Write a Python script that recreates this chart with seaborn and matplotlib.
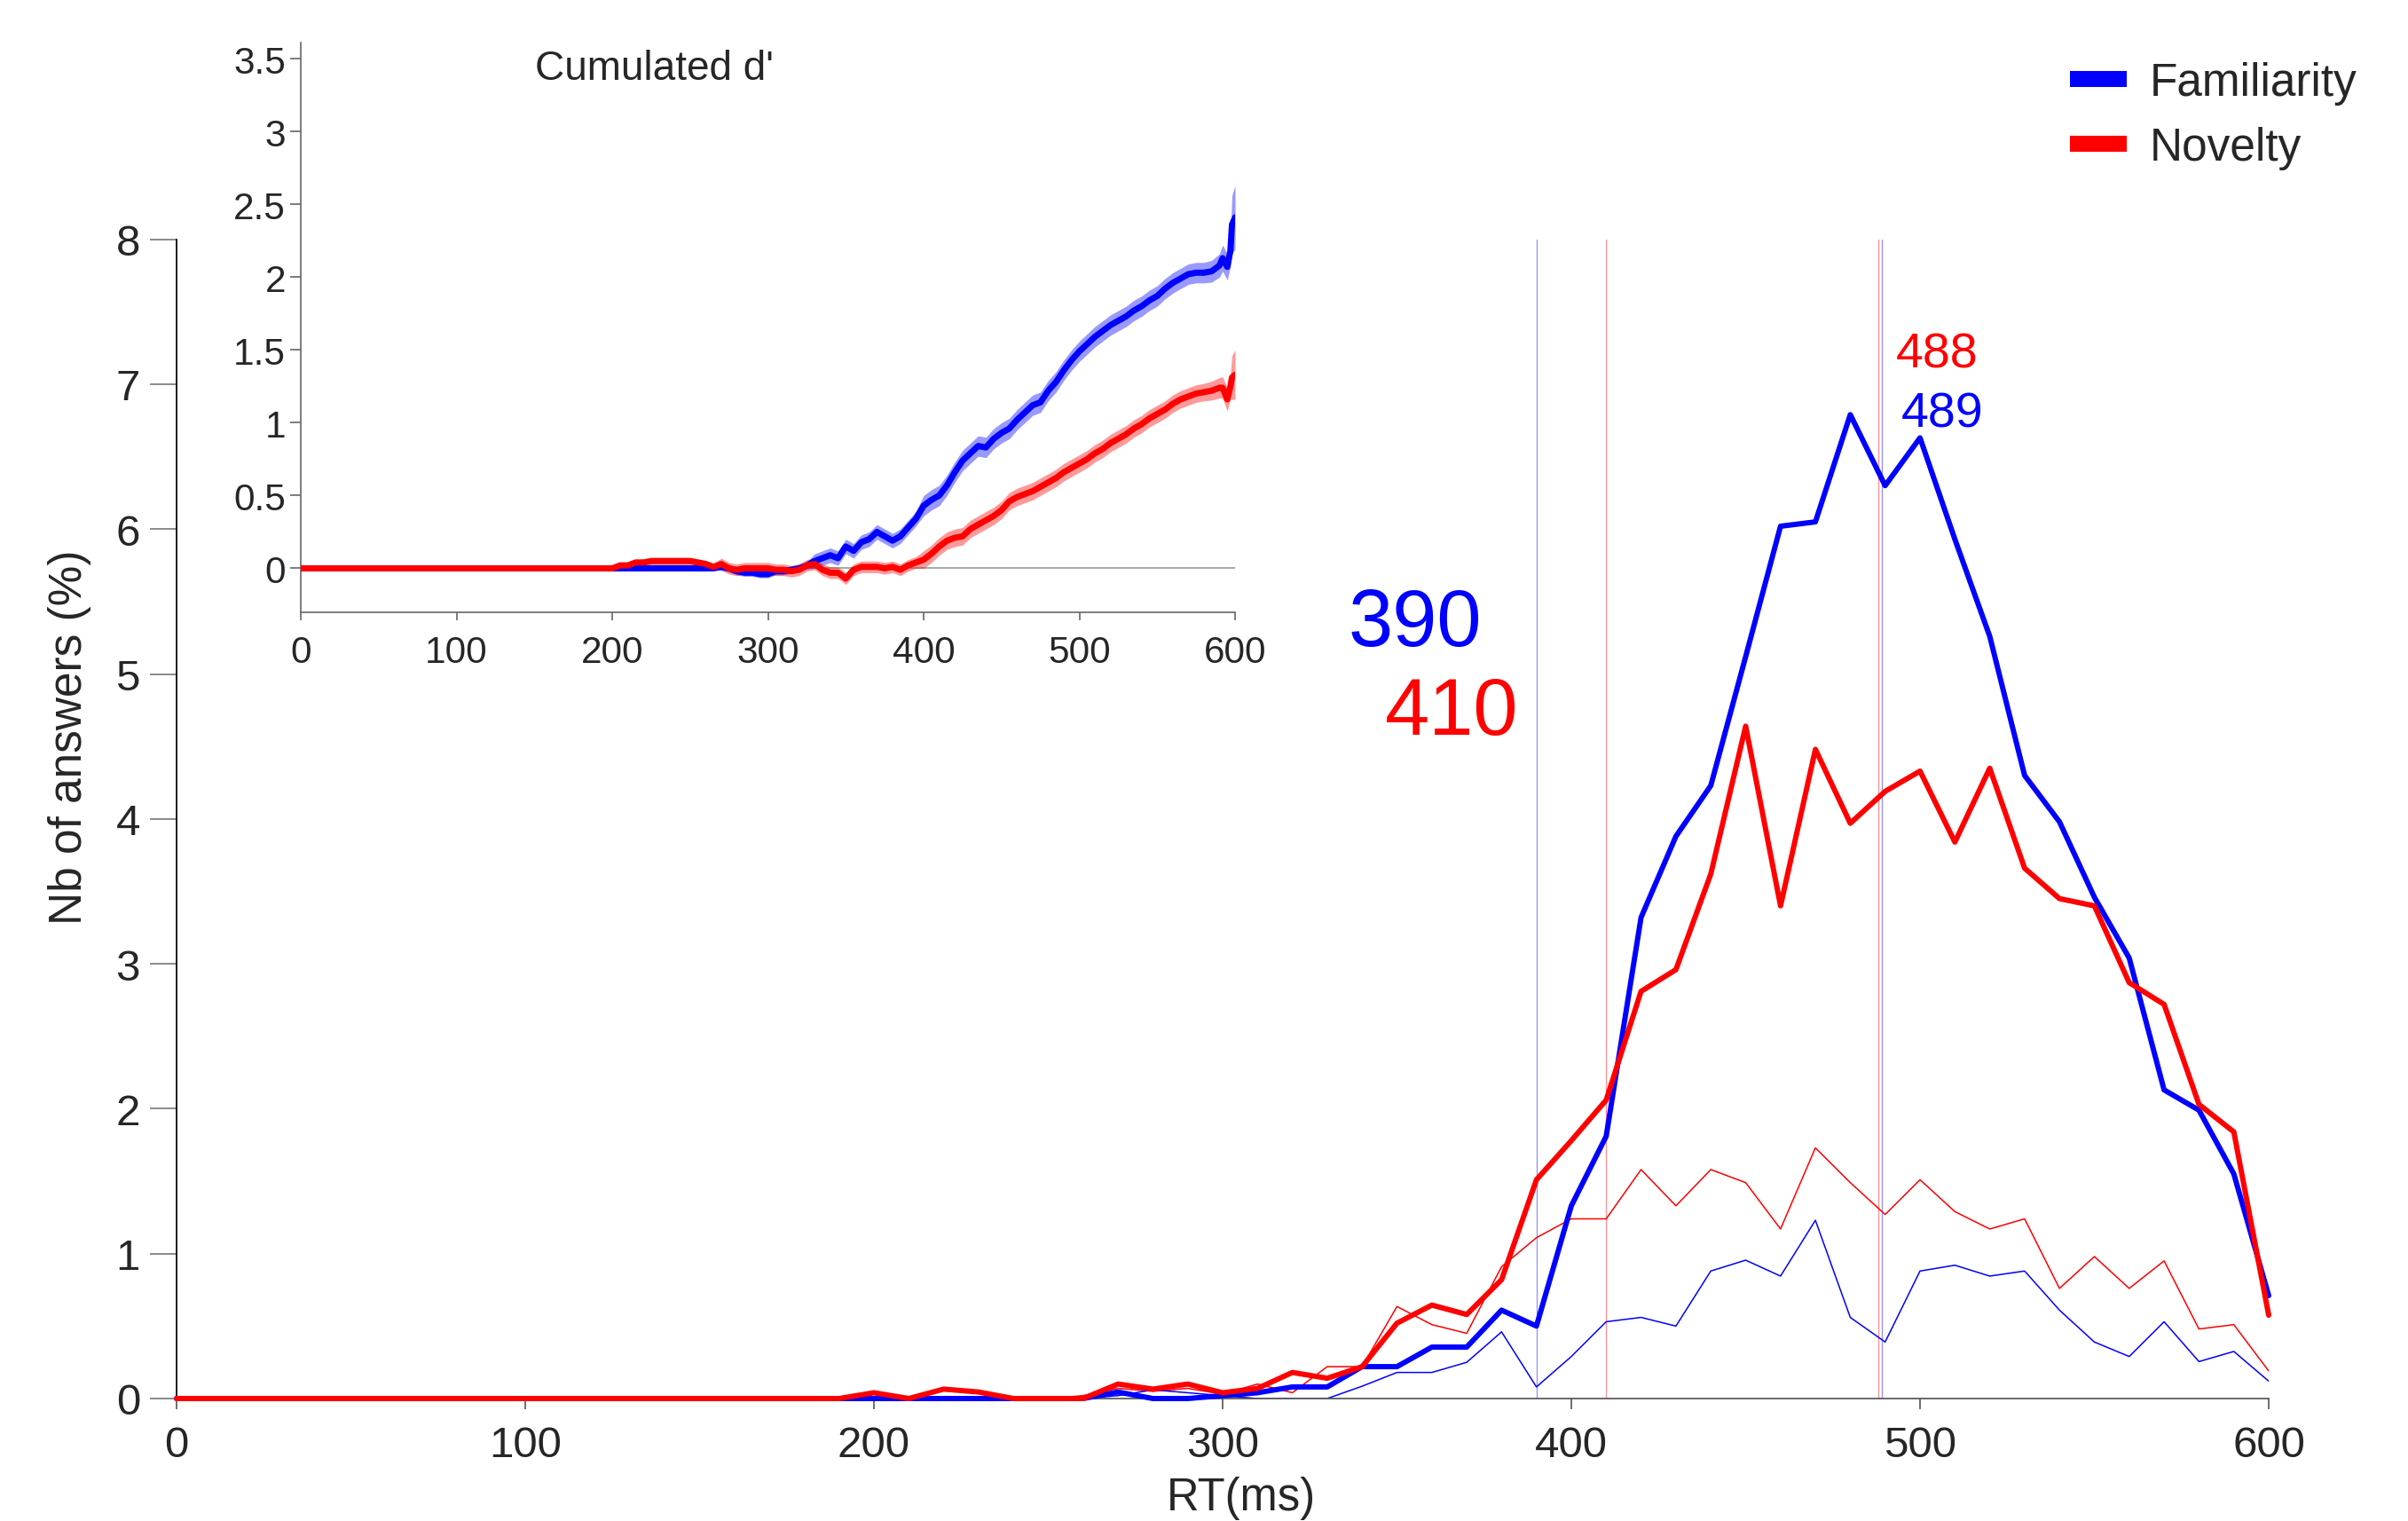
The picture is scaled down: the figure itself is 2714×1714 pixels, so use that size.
import numpy as np
import pandas as pd
import matplotlib
matplotlib.use("Agg")
import matplotlib.pyplot as plt
from matplotlib.lines import Line2D
import seaborn as sns

# main histogram: RT bins (ms) and % of answers
rt_bins = list(range(0, 610, 10))
fam_main = [0.0] * 27 + [0.045, 0.0, 0.0, 0.02, 0.04, 0.08, 0.08, 0.22, 0.22, 0.355, 0.355, 0.61,
                         0.50, 1.33, 1.81, 3.32, 3.88, 4.23, 5.12, 6.02, 6.05, 6.79, 6.30, 6.63,
                         5.93, 5.26, 4.30, 3.98, 3.46, 3.04, 2.13, 1.99, 1.55, 0.71]
nov_main = [0.0] * 19 + [0.0, 0.04, 0.0, 0.065, 0.045, 0.0, 0.0, 0.0, 0.1, 0.065, 0.1, 0.04,
                         0.07, 0.18, 0.14, 0.22, 0.52, 0.645, 0.58, 0.82, 1.51, 1.78, 2.06, 2.81,
                         2.96, 3.62, 4.64, 3.40, 4.48, 3.97, 4.19, 4.33, 3.84, 4.35, 3.66, 3.45,
                         3.40, 2.87, 2.72, 2.03, 1.84, 0.575]
fam_thin = [0.0] * 27 + [0.02, 0.06, 0.04, 0.02, 0.0, 0.0, 0.0, 0.085, 0.18, 0.18, 0.25, 0.46,
                         0.08, 0.29, 0.53, 0.56, 0.50, 0.88, 0.955, 0.845, 1.23, 0.56, 0.39, 0.88,
                         0.92, 0.845, 0.88, 0.61, 0.39, 0.29, 0.53, 0.255, 0.325, 0.12]
nov_thin = [0.0] * 26 + [0.02, 0.07, 0.05, 0.07, 0.03, 0.1, 0.04, 0.22, 0.22, 0.635, 0.51, 0.45,
                         0.91, 1.11, 1.24, 1.24, 1.58, 1.33, 1.58, 1.49, 1.17, 1.73, 1.49, 1.27,
                         1.51, 1.29, 1.17, 1.24, 0.76, 0.98, 0.76, 0.95, 0.48, 0.51, 0.19]

# median markers
fam_medians = [390, 489]
nov_medians = [410, 488]

# inset: cumulated d'
inset_rt = [0] + list(range(200, 585, 5)) + [585, 590, 592, 595, 597, 598, 600]
fam_dprime = ([0.0] * 15 +
              [0.01, 0.0, -0.02, -0.03, -0.03, -0.04, -0.04, -0.02, -0.02, -0.01, 0.0, 0.02,
               0.05, 0.07, 0.09, 0.07, 0.15, 0.12, 0.18, 0.20, 0.25, 0.22, 0.19, 0.22, 0.28, 0.34,
               0.43, 0.47, 0.50, 0.57, 0.66, 0.74, 0.79, 0.84, 0.83, 0.89, 0.93, 0.96, 1.02, 1.07,
               1.12, 1.14, 1.22, 1.28, 1.36, 1.43, 1.49, 1.54, 1.59, 1.63, 1.67, 1.70, 1.73, 1.77,
               1.80, 1.84, 1.87, 1.92, 1.96, 1.99, 2.02, 2.03, 2.03,
               2.04, 2.08, 2.13, 2.07, 2.18, 2.36, 2.41])
nov_dprime = ([0.0, 0.0] +
              [0.02, 0.02, 0.04, 0.04, 0.05, 0.05, 0.05, 0.05, 0.05, 0.05, 0.04, 0.03, 0.01,
               0.03, 0.0, -0.01, 0.0, 0.0, 0.0, 0.0, -0.01, -0.01, -0.02, -0.01, 0.02, 0.03,
               -0.01, -0.03, -0.03, -0.07, -0.01, 0.01, 0.01, 0.01, 0.0, 0.01, -0.01, 0.02, 0.04,
               0.06, 0.10, 0.15, 0.19, 0.21, 0.22, 0.27, 0.30, 0.33, 0.36, 0.40, 0.46, 0.49, 0.51,
               0.53, 0.56, 0.59, 0.62, 0.66, 0.69, 0.72, 0.75, 0.79, 0.82, 0.86, 0.89, 0.92, 0.96,
               0.99, 1.03, 1.06, 1.09, 1.13, 1.16, 1.18, 1.20, 1.21,
               1.22, 1.24, 1.24, 1.16, 1.25, 1.31, 1.33])
fam_sem = [0.0] * 15 + [0.025] * 12 + [0.05] * 14 + [0.07] * 37 + [0.075, 0.08, 0.09, 0.09, 0.11, 0.2, 0.22]
nov_sem = [0.0] * 2 + [0.025] * 13 + [0.04] * 26 + [0.06] * 37 + [0.065, 0.07, 0.075, 0.08, 0.09, 0.15, 0.17]

inset_yticks = [0, 0.5, 1, 1.5, 2, 2.5, 3, 3.5]
xticks = [0, 100, 200, 300, 400, 500, 600]

BLUE = "#0000FF"
RED = "#FF0000"

sns.set_theme(style="white")
plt.rcParams["font.family"] = ["Liberation Sans", "DejaVu Sans"]

df = pd.DataFrame({"rt": rt_bins, "fam": fam_main, "nov": nov_main,
                   "fam_thin": fam_thin, "nov_thin": nov_thin})
dfi = pd.DataFrame({"rt": inset_rt, "fam": fam_dprime, "nov": nov_dprime,
                    "fam_sem": fam_sem, "nov_sem": nov_sem})

fig = plt.figure(figsize=(27.14, 17.15), dpi=100)
ax = fig.add_axes([0.07332, 0.08047, 0.86883, 0.76169])

for m in fam_medians:
    ax.axvline(m, color=BLUE, lw=0.9, alpha=0.45, zorder=1)
for m in nov_medians:
    ax.axvline(m, color=RED, lw=0.9, alpha=0.45, zorder=1)

sns.lineplot(data=df, x="rt", y="nov_thin", ax=ax, color=RED, linewidth=1.1, zorder=2)
sns.lineplot(data=df, x="rt", y="fam_thin", ax=ax, color=BLUE, linewidth=1.1, zorder=2)
sns.lineplot(data=df, x="rt", y="fam", ax=ax, color=BLUE, linewidth=4.3, zorder=3, clip_on=False)
sns.lineplot(data=df, x="rt", y="nov", ax=ax, color=RED, linewidth=4.3, zorder=4, clip_on=False)

ax.set_xlim(0, 600)
ax.set_ylim(0, 8)
ax.set_xticks(xticks)
ax.set_yticks(range(0, 9))
sns.despine(ax=ax)
ax.spines["left"].set_color("black")
ax.spines["bottom"].set_color("#555555")
ax.tick_params(axis="y", direction="out", length=21.6, width=1.2, color="#777777",
               pad=8, labelsize=35.5, left=True)
ax.tick_params(axis="x", direction="out", length=8.6, width=1.2, color="#555555",
               pad=13, labelsize=35.5, bottom=True)
ax.set_xlabel("RT(ms)", fontsize=36.5)
ax.set_ylabel("Nb of answers (%)", fontsize=37)
ax.xaxis.set_label_coords(0.509, -0.0956)
ax.xaxis.label.set_verticalalignment("baseline")
ax.yaxis.set_label_coords(-0.0513, 0.5716)
ax.yaxis.label.set_verticalalignment("center")

# median annotations
ax.text(336, 5.20, "390", color=BLUE, fontsize=65, ha="left", va="baseline")
ax.text(346.5, 4.59, "410", color=RED, fontsize=65, ha="left", va="baseline")
ax.text(493, 7.12, "488", color=RED, fontsize=40, ha="left", va="baseline")
ax.text(494.5, 6.71, "489", color=BLUE, fontsize=40, ha="left", va="baseline")

handles = [Line2D([], [], color=BLUE, lw=13, solid_capstyle="butt"),
           Line2D([], [], color=RED, lw=13, solid_capstyle="butt")]
ax.legend(handles, ["Familiarity", "Novelty"], loc="upper left",
          bbox_to_anchor=(0.8596, 0.9592), bbox_transform=fig.transFigure,
          frameon=False, fontsize=37, handlelength=1.245, handletextpad=0.5,
          labelspacing=0.47, borderpad=0, borderaxespad=0)

# inset
axi = fig.add_axes([0.12491, 0.59726, 0.38799, 0.37417])
axi.patch.set_alpha(0)
axi.axhline(0, color="#999999", lw=1.2, zorder=1)
axi.fill_between(dfi["rt"], dfi["fam"] - dfi["fam_sem"], dfi["fam"] + dfi["fam_sem"],
                 color=BLUE, alpha=0.4, lw=0, zorder=2)
axi.fill_between(dfi["rt"], dfi["nov"] - dfi["nov_sem"], dfi["nov"] + dfi["nov_sem"],
                 color=RED, alpha=0.4, lw=0, zorder=2)
sns.lineplot(data=dfi, x="rt", y="fam", ax=axi, color=BLUE, linewidth=5, zorder=3)
sns.lineplot(data=dfi, x="rt", y="nov", ax=axi, color=RED, linewidth=5, zorder=4)
axi.set_xlim(0, 600)
axi.set_ylim(-0.30, 3.61)
axi.set_xticks(xticks)
axi.set_yticks(inset_yticks)
axi.set_yticklabels([f"{v:g}" for v in inset_yticks])
sns.despine(ax=axi)
for s in ["left", "bottom"]:
    axi.spines[s].set_color("#666666")
    axi.spines[s].set_linewidth(1.2)
axi.tick_params(axis="y", direction="out", length=8.6, width=1.2, color="#666666",
                pad=3.6, labelsize=30.5, left=True)
axi.tick_params(axis="x", direction="out", length=6.5, width=1.2, color="#666666",
                pad=12, labelsize=30.5, bottom=True)
axi.set_xlabel("")
axi.set_ylabel("")
fig.text(0.2222, 0.9475, "Cumulated d'", fontsize=33, ha="left", va="baseline")

fig.savefig("out.png", dpi=100)
